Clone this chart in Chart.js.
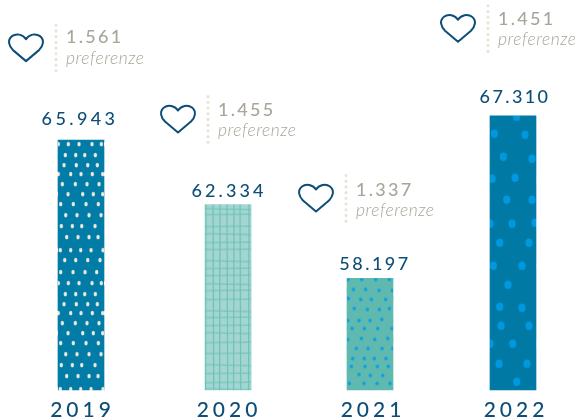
<!DOCTYPE html>
<html>
<head>
<meta charset="utf-8">
<script src="https://cdn.jsdelivr.net/npm/chart.js@4"></script>
<style>
  html, body { margin: 0; padding: 0; background: #fff; }
  canvas { display: block; }
</style>
</head>
<body>
<canvas id="chart" width="579" height="419"></canvas>
<script>
const years = ["2019", "2020", "2021", "2022"];
const visits = [65943, 62334, 58197, 67310];
const visitLabels = ["65.943", "62.334", "58.197", "67.310"];
const likes = ["1.561", "1.455", "1.337", "1.451"];
const likesWord = "preferenze";

const axisMin = 51950;
const axisMax = 73790;

const navy = "#0d4e78";
const grey = "#a9a59b";
const sand = "#eae2d4";

// the bars are not quite evenly spaced in the original
const barShift = [0, 3, 1, 0];
const tickShift = [1.5, 4, 4, 3];

// callout and label placement, relative to the top left of each bar
const calloutOffsets = [[-2, -116], [3, -109], [-1, -104], [-2, -111]];
const likesBaseline = [19, 20, 22, 20];
const wordBaseline = [40, 40, 42, 40];
const labelOffsets = [[-1, -15], [1, -8], [5, -8], [2, -13]];
const labelSpacing = ["3.4px", "3.1px", "2.5px", "2.4px"];

// texture of each bar
const dots2019 = [
  [7.7, 75], [19, 75], [31, 75], [43, 75],
  [3.3, 86], [14.3, 86], [23.7, 86], [37, 86],
  [8.7, 97], [20, 97], [31, 97], [40, 97],
  [2.3, 110], [12.7, 110], [22.7, 110], [33, 110], [45, 110],
  [6.7, 120], [17.7, 120], [29.7, 120], [42, 120],
  [2.7, 132], [15, 132], [27, 132], [38.7, 132],
  [0.3, 4], [10.3, 4], [21, 4], [34, 4], [43.3, 4],
  [7.3, 15], [17.7, 15], [26.7, 15], [37.3, 15],
  [6, 25], [18.3, 25], [29.7, 25], [39.3, 25],
  [0.3, 34], [12.7, 34], [23, 34], [34.3, 34], [44.7, 34],
  [4.3, 44], [17.3, 44], [29, 44], [41, 44],
  [10, 54], [24.7, 54], [35.3, 54], [44.7, 54],
  [2.7, 64], [15.3, 64], [28, 64], [40.3, 64],
];
const gridX2020 = [1, 8, 15, 22, 29, 35, 44];
const gridY2020 = [4, 10, 22, 29, 38, 45, 56, 64, 71, 79, 86, 95, 106, 113, 121, 128, 138, 149, 160, 169, 178, 184];
const dots2021 = [
  [1, 1], [14.7, 1], [28.7, 1], [42.3, 1],
  [6.3, 11], [18.7, 11], [32, 12], [45.3, 12],
  [1.3, 20], [13.7, 21], [24.3, 21], [38.7, 21],
  [7.3, 30], [20.3, 31], [32.3, 31], [42.3, 30],
  [0.7, 42], [12, 42], [23, 42], [34.7, 41],
  [5, 50], [17.3, 50], [30.7, 50], [45, 50],
  [0.7, 61], [14.3, 60], [27.7, 61], [40.7, 60],
  [9.3, 70], [21, 70], [35, 70], [45.7, 70],
  [5.7, 80], [17.3, 80], [27.3, 80], [39, 80],
  [4.3, 88], [18, 88], [30.3, 88], [41.3, 88],
  [12, 96], [23.3, 97], [35.7, 97],
  [2.3, 105], [17, 105], [30, 105], [43, 105],
];
const dots2022 = [
  [26.7, 1], [4.3, 18], [35, 19], [13.3, 41], [42, 43],
  [2, 63], [25, 62], [16.7, 84], [42, 84],
  [0, 108], [22, 108], [45, 107], [9.7, 127], [39, 127],
  [3.3, 150], [32, 150], [18, 169], [9.7, 191], [32, 192],
  [11, 210], [39, 210], [0, 228], [22.7, 228],
  [9, 248], [37, 248], [26.7, 266],
];

function makeTile(width, height, paint) {
  const tile = document.createElement("canvas");
  tile.width = width;
  tile.height = height;
  paint(tile.getContext("2d"));
  return tile;
}

function dotTile(height, base, dotColor, dots, rx, ry) {
  return makeTile(46, height, (c) => {
    c.fillStyle = base;
    c.fillRect(0, 0, 46, height);
    c.fillStyle = dotColor;
    dots.forEach(([x, y]) => {
      c.beginPath();
      c.ellipse(x, y, rx, ry, 0, 0, Math.PI * 2);
      c.fill();
    });
  });
}

function gridTile(height) {
  return makeTile(46, height, (c) => {
    c.fillStyle = "#a4d5d3";
    c.fillRect(0, 0, 46, height);
    c.strokeStyle = "#6cc4b4";
    c.lineWidth = 1.2;
    gridX2020.forEach((x, i) => {
      c.beginPath();
      c.moveTo(x, 0);
      c.lineTo(x + (i % 2 ? 0.7 : -0.5), height);
      c.stroke();
    });
    gridY2020.forEach((y, i) => {
      c.beginPath();
      c.moveTo(0, y);
      c.lineTo(46, y + (i % 3 === 0 ? 1 : -0.5));
      c.stroke();
    });
  });
}

const ctx = document.getElementById("chart").getContext("2d");
const patterns = [
  ctx.createPattern(dotTile(139, "#007ca6", "#efe8dc", dots2019, 1.7, 2.2), "repeat"),
  ctx.createPattern(gridTile(190), "repeat"),
  ctx.createPattern(dotTile(115, "#5fb9af", "#0a9fe8", dots2021, 1.8, 1.8), "repeat"),
  ctx.createPattern(dotTile(280, "#0079a5", "#0099e0", dots2022, 3.6, 4.2), "repeat"),
];

function drawHeart(c, x, y) {
  // x, y: top of the notch; heart is about 34 wide and 27 tall
  c.beginPath();
  c.moveTo(x, y + 4);
  c.bezierCurveTo(x - 3, y - 1, x - 10, y - 2, x - 14, y + 1);
  c.bezierCurveTo(x - 19, y + 5, x - 17, y + 11, x - 13, y + 15);
  c.lineTo(x, y + 26);
  c.lineTo(x + 13, y + 15);
  c.bezierCurveTo(x + 17, y + 11, x + 19, y + 5, x + 14, y + 1);
  c.bezierCurveTo(x + 10, y - 2, x + 3, y - 1, x, y + 4);
  c.closePath();
  c.stroke();
}

const tickSpacing = {
  id: "tickSpacing",
  beforeDraw(chart) {
    chart.ctx.letterSpacing = "4px";
  },
};

const anchorPatterns = {
  id: "anchorPatterns",
  beforeDatasetsDraw(chart) {
    chart.getDatasetMeta(0).data.forEach((bar, i) => {
      patterns[i].setTransform(new DOMMatrix().translate(bar.x - 23, bar.y));
    });
  },
};

const callouts = {
  id: "callouts",
  afterDatasetsDraw(chart) {
    const c = chart.ctx;
    chart.getDatasetMeta(0).data.forEach((bar, i) => {
      const left = bar.x - 23;
      c.save();
      c.textBaseline = "alphabetic";

      // value above the bar
      c.font = "500 18px Lato";
      c.fillStyle = navy;
      c.textAlign = "center";
      c.letterSpacing = labelSpacing[i];
      c.fillText(visitLabels[i], bar.x + labelOffsets[i][0], bar.y + labelOffsets[i][1]);

      // heart, dotted rule and likes
      const lineX = left + calloutOffsets[i][0];
      const lineY = bar.y + calloutOffsets[i][1];
      c.strokeStyle = sand;
      c.lineWidth = 3;
      c.lineCap = "round";
      c.setLineDash([0.1, 5.6]);
      c.beginPath();
      c.moveTo(lineX, lineY + 1);
      c.lineTo(lineX, lineY + 52);
      c.stroke();
      c.setLineDash([]);

      c.strokeStyle = navy;
      c.lineWidth = 2;
      c.lineJoin = "round";
      drawHeart(c, lineX - 30, lineY + 11);

      c.textAlign = "left";
      c.fillStyle = grey;
      c.font = "500 18px Lato";
      c.letterSpacing = "2.3px";
      c.fillText(likes[i], lineX + 10, lineY + likesBaseline[i]);
      c.font = "italic 300 17.5px Lato";
      c.letterSpacing = "0.5px";
      c.fillText(likesWord, lineX + 10, lineY + wordBaseline[i]);
      c.restore();
    });
  },
};

new Chart(ctx, {
  type: "bar",
  data: {
    labels: years,
    datasets: [
      {
        data: visits,
        base: axisMin,
        backgroundColor: patterns,
        barThickness: 46,
        borderWidth: 0,
        clip: false,
      },
    ],
  },
  options: {
    responsive: false,
    animation: false,
    layout: { padding: { left: 81, right: 66, top: 0, bottom: 0 } },
    plugins: { legend: { display: false }, tooltip: { enabled: false } },
    scales: {
      x: {
        offset: false,
        grid: { display: false },
        border: { display: false },
        ticks: {
          color: navy,
          font: { family: "Lato", size: 21, weight: "500" },
          padding: 0,
          maxRotation: 0,
          autoSkip: false,
        },
        afterFit(scale) {
          scale.height = 29;
          const proto = Chart.registry.getScale("category").prototype;
          scale.getPixelForValue = (v) => proto.getPixelForValue.call(scale, v) + barShift[Math.round(v)];
          scale.getPixelForTick = (i) => proto.getPixelForValue.call(scale, i) + tickShift[i];
        },
      },
      y: { display: false, min: axisMin, max: axisMax },
    },
  },
  plugins: [tickSpacing, anchorPatterns, callouts],
});
</script>
</body>
</html>
